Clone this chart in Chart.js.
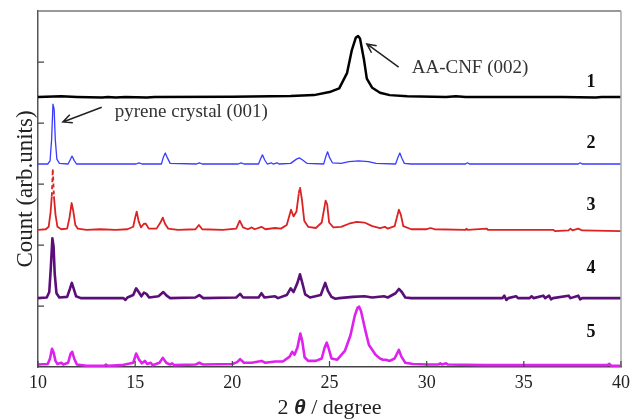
<!DOCTYPE html>
<html>
<head>
<meta charset="utf-8">
<script src="https://cdn.jsdelivr.net/npm/chart.js@4/dist/chart.umd.min.js"></script>
<style>
  html, body { margin: 0; padding: 0; background: #fff; }
  #wrap { width: 635px; height: 420px; }
</style>
</head>
<body>
<div id="wrap"><canvas id="xrdChart"></canvas></div>
<script>
// Sample labels and vertical offsets of each pattern
const sampleLabels = ['1', '2', '3', '4', '5'];
const offsets = [4.43, 3.33, 2.25, 1.13, 0.02];
const xTicks = [10, 15, 20, 25, 30, 35, 40];

// Intensities (arb. units), [2theta, counts]
const s1 = [[10,0],[11.2,0.01],[12,0],[13.3,-0.01],[13.6,0],[14,-0.01],[14.5,0],[15.6,-0.01],[16,0],[20,0.005],
  [22,0.01],[23,0.015],[24.2,0.03],[25,0.08],[25.5,0.14],[25.9,0.39],[26.15,0.77],[26.35,0.97],[26.47,1.0],
  [26.57,0.96],[26.77,0.62],[26.92,0.3],[27.2,0.15],[27.6,0.07],[28.1,0.03],[29,0.01],[31,0],[31.5,0.01],
  [32,0],[37,0],[38.7,-0.01],[39,0],[40,0]];

const s2 = [[10,0],[10.5,0],[10.62,0.05],[10.7,0.4],[10.77,0.98],[10.83,0.9],[10.89,0.4],[10.97,0.08],[11.1,0.01],
  [11.55,0],[11.66,0.07],[11.75,0.13],[11.86,0.06],[11.98,0],[15.05,0],[15.2,0.02],[15.35,0],[16.35,0],
  [16.46,0.12],[16.55,0.18],[16.66,0.1],[16.8,0.01],[18.15,0],[18.3,0.02],[18.45,0],[20.3,0],[20.45,0.02],
  [20.6,0],[21.35,0],[21.46,0.09],[21.55,0.15],[21.66,0.07],[21.8,0],[22.0,0.02],[22.1,0],[22.3,0.02],[22.4,0],
  [23.0,0.01],[23.3,0.08],[23.45,0.1],[23.6,0.07],[23.85,0.01],[24.7,0],[24.81,0.12],[24.9,0.2],[25.01,0.1],
  [25.15,0.02],[25.6,0.01],[26.0,0.04],[26.5,0.05],[27.0,0.04],[27.4,0.01],[28.4,0],[28.51,0.1],[28.62,0.18],
  [28.73,0.09],[28.85,0.01],[29.2,0],[32.0,0],[32.1,0.02],[32.2,0],[37.8,0],[37.9,0.02],[38.0,0],[40,0]];

const s3 = [[10,0],[10.4,0.01],[10.55,0.05],[10.65,0.3],[10.71,0.55],[10.76,1.0],[10.82,0.55],[10.9,0.25],
  [11.0,0.05],[11.2,0.01],[11.5,0.02],[11.62,0.2],[11.73,0.44],[11.82,0.3],[11.92,0.08],[12.05,0.02],[12.5,0],
  [13.2,0.01],[14.0,0],[14.6,0.01],[14.9,0.05],[15.0,0.2],[15.08,0.3],[15.18,0.14],[15.3,0.04],[15.45,0.1],
  [15.55,0.1],[15.7,0.02],[16.1,0.02],[16.3,0.12],[16.42,0.2],[16.55,0.09],[16.7,0.02],[17.2,0],[18.1,0.01],
  [18.28,0.08],[18.45,0.01],[19.5,0],[20.2,0.02],[20.38,0.15],[20.55,0.04],[20.8,0.01],[21.0,0.04],[21.15,0.01],
  [21.5,0.05],[21.7,0.01],[22.2,0.03],[22.5,0.02],[22.8,0.08],[23.02,0.33],[23.15,0.22],[23.3,0.3],[23.42,0.6],
  [23.48,0.7],[23.58,0.5],[23.7,0.15],[23.9,0.05],[24.3,0.03],[24.6,0.12],[24.8,0.48],[24.88,0.42],[24.98,0.12],
  [25.2,0.04],[25.6,0.05],[26.0,0.1],[26.4,0.13],[26.8,0.12],[27.2,0.06],[27.6,0.03],[27.85,0.05],[28.0,0.02],
  [28.35,0.06],[28.57,0.33],[28.67,0.25],[28.8,0.06],[29.2,0.01],[30.0,0.01],[30.2,0.03],[30.4,0.01],[32,0],
  [32.05,0.02],[32.1,0],[33.1,0.02],[33.15,0],[34.2,0],[36.5,0],[36.6,-0.02],[37.3,-0.01],[37.4,0.02],
  [37.5,-0.01],[37.8,0.02],[38,-0.01],[40,-0.02]];

const s4 = [[10,0],[10.45,0.01],[10.58,0.1],[10.66,0.5],[10.74,0.98],[10.8,0.85],[10.86,0.4],[10.95,0.08],
  [11.1,0.01],[11.5,0.02],[11.64,0.15],[11.74,0.25],[11.84,0.15],[11.96,0.03],[12.2,0],[14.4,0],[14.5,-0.03],
  [14.6,0.01],[14.9,0.05],[15.05,0.16],[15.18,0.1],[15.32,0.03],[15.45,0.09],[15.58,0.07],[15.72,0.01],
  [16.2,0.03],[16.45,0.1],[16.62,0.04],[16.8,0],[18.1,0.01],[18.3,0.05],[18.5,0],[20.2,0.01],[20.4,0.07],
  [20.55,0.01],[21.35,0.01],[21.5,0.08],[21.65,0.01],[22.2,0.03],[22.35,0],[22.8,0.05],[23.0,0.16],[23.15,0.1],
  [23.35,0.25],[23.48,0.39],[23.6,0.25],[23.75,0.06],[24.0,0.01],[24.55,0.05],[24.78,0.25],[24.92,0.12],
  [25.1,0.02],[25.3,-0.01],[25.5,0],[26.2,0.02],[26.8,0.03],[27.2,0.01],[27.8,0.03],[28.0,0.01],[28.4,0.08],
  [28.57,0.15],[28.72,0.1],[28.9,0.01],[29.2,0],[33.9,0],[34.0,0.04],[34.1,-0.03],[34.2,0],[34.6,0.03],
  [34.7,0],[35.3,0],[35.4,0.03],[35.5,0],[36.0,0.04],[36.1,0],[36.3,0.04],[36.4,-0.02],[36.5,0],[37.3,0.04],
  [37.4,0],[37.8,0.04],[37.9,-0.02],[38,0],[40,0]];

const s5 = [[10,0.02],[10.5,0.03],[10.62,0.12],[10.72,0.28],[10.8,0.22],[10.9,0.08],[11.0,0.03],[11.2,0.05],
  [11.3,0.02],[11.55,0.05],[11.68,0.2],[11.76,0.23],[11.86,0.12],[12.0,0.02],[12.5,0],[13.4,0],[13.5,0.02],
  [13.6,0],[14.3,0.01],[14.9,0.05],[15.05,0.2],[15.2,0.1],[15.35,0.04],[15.5,0.08],[15.62,0.03],[15.8,0.05],
  [15.9,0.01],[16.25,0.05],[16.42,0.13],[16.6,0.05],[16.8,0.02],[16.9,0.04],[17.0,0.01],[18.1,0.02],[18.3,0.05],
  [18.5,0.02],[20.0,0.03],[20.25,0.06],[20.4,0.11],[20.6,0.05],[21.0,0.05],[21.5,0.08],[21.7,0.05],[22.2,0.07],
  [22.6,0.07],[22.95,0.15],[23.08,0.23],[23.2,0.18],[23.35,0.3],[23.5,0.53],[23.6,0.4],[23.72,0.14],[23.9,0.08],
  [24.3,0.08],[24.6,0.12],[24.75,0.3],[24.86,0.38],[24.96,0.28],[25.1,0.12],[25.4,0.1],[25.8,0.25],[26.08,0.5],
  [26.3,0.82],[26.44,0.95],[26.52,0.97],[26.62,0.9],[26.86,0.56],[27.03,0.34],[27.37,0.18],[27.6,0.12],
  [27.75,0.1],[27.9,0.1],[28.1,0.08],[28.35,0.12],[28.57,0.26],[28.7,0.15],[28.9,0.05],[29.3,0.03],[30,0.02],
  [30.6,0.02],[30.7,0.04],[30.8,0.02],[31.0,0.04],[31.1,0.02],[33,0.01],[35,0.01],[39.3,0.01],[39.4,0.03],
  [39.5,0],[40,0]];

const series = [s1, s2, s3, s4, s5];
const colors = ['#000000', '#3b3bff', '#dd2222', '#5a0f78', '#dd22ee'];
const widths = [2.5, 1.3, 1.8, 2.6, 2.6];

const serif = "'Liberation Serif', 'Times New Roman', serif";

// text and arrows placed in data coordinates
const notes = [
  { text: 'AA-CNF (002)', tx: 29.23, ty: 4.90, from: [28.56, 4.92], to: [26.92, 5.30] },
  { text: 'pyrene crystal (001)', tx: 13.95, ty: 4.18, from: [13.28, 4.26], to: [11.28, 4.02] }
];
const numberPos = { x: 38.46, y: [4.67, 3.67, 2.66, 1.62, 0.57] };

const overlay = {
  id: 'overlay',
  afterDraw(chart) {
    const { ctx, chartArea: a, scales: { x, y } } = chart;
    ctx.save();

    // top / right frame
    ctx.lineWidth = 1.5;
    ctx.strokeStyle = '#777';
    ctx.beginPath(); ctx.moveTo(a.left, a.top); ctx.lineTo(a.right, a.top); ctx.stroke();
    ctx.strokeStyle = '#aaa';
    ctx.beginPath(); ctx.moveTo(a.right, a.top); ctx.lineTo(a.right, a.bottom); ctx.stroke();

    // inward ticks
    ctx.strokeStyle = '#444';
    ctx.lineWidth = 1.2;
    ctx.beginPath();
    x.ticks.forEach(t => {
      const px = x.getPixelForValue(t.value);
      ctx.moveTo(px, a.bottom); ctx.lineTo(px, a.bottom - 6);
    });
    y.ticks.filter(t => Number.isInteger(t.value) && t.value > 0).forEach(t => {
      const py = y.getPixelForValue(t.value);
      ctx.moveTo(a.left, py); ctx.lineTo(a.left + 6, py);
    });
    ctx.stroke();

    // sample numbers
    ctx.fillStyle = '#111';
    ctx.font = 'bold 18px ' + serif;
    ctx.textAlign = 'center';
    ctx.textBaseline = 'middle';
    sampleLabels.forEach((lab, i) => {
      ctx.fillText(lab, x.getPixelForValue(numberPos.x), y.getPixelForValue(numberPos.y[i]));
    });

    // annotations with arrows
    ctx.font = '19px ' + serif;
    ctx.textAlign = 'left';
    notes.forEach(n => {
      ctx.fillStyle = '#333';
      ctx.fillText(n.text, x.getPixelForValue(n.tx), y.getPixelForValue(n.ty));
      const x0 = x.getPixelForValue(n.from[0]), y0 = y.getPixelForValue(n.from[1]);
      const x1 = x.getPixelForValue(n.to[0]), y1 = y.getPixelForValue(n.to[1]);
      const ang = Math.atan2(y1 - y0, x1 - x0);
      ctx.strokeStyle = '#222';
      ctx.lineWidth = 1.5;
      ctx.beginPath();
      ctx.moveTo(x0, y0); ctx.lineTo(x1, y1);
      ctx.moveTo(x1 - 10 * Math.cos(ang - 0.45), y1 - 10 * Math.sin(ang - 0.45));
      ctx.lineTo(x1, y1);
      ctx.lineTo(x1 - 10 * Math.cos(ang + 0.45), y1 - 10 * Math.sin(ang + 0.45));
      ctx.stroke();
    });

    // axis titles
    ctx.fillStyle = '#222';
    ctx.textBaseline = 'alphabetic';
    const parts = [
      { t: '2 ', f: '22px ' + serif },
      { t: 'θ', f: "bold italic 21px 'Liberation Sans', Arial, sans-serif" },
      { t: ' / degree', f: '22px ' + serif }
    ];
    let total = 0;
    parts.forEach(p => { ctx.font = p.f; p.w = ctx.measureText(p.t).width; total += p.w; });
    let cx = (a.left + a.right) / 2 - total / 2;
    ctx.textAlign = 'left';
    parts.forEach(p => { ctx.font = p.f; ctx.fillText(p.t, cx, 414); cx += p.w; });

    ctx.translate(32, (a.top + a.bottom) / 2);
    ctx.rotate(-Math.PI / 2);
    ctx.textAlign = 'center';
    ctx.font = '23px ' + serif;
    ctx.fillText('Count (arb.units)', 0, 0);
    ctx.restore();
  }
};

const ctx = document.getElementById('xrdChart').getContext('2d');
new Chart(ctx, {
  type: 'line',
  data: {
    datasets: series.map((s, i) => ({
      label: sampleLabels[i],
      data: s.map(p => ({ x: p[0], y: p[1] + offsets[i] })),
      borderColor: colors[i],
      borderWidth: widths[i],
      borderJoinStyle: 'round',
      pointRadius: 0,
      tension: 0,
      fill: false,
      // the strongest red reflection is drawn dashed in the original
      segment: i === 2 ? {
        borderDash: c => (c.p0.parsed.y - offsets[2] > 0.5 && c.p1.parsed.y - offsets[2] > 0.5) ? [4, 3] : undefined
      } : undefined
    }))
  },
  options: {
    responsive: true,
    maintainAspectRatio: false,
    animation: false,
    layout: { padding: { top: 11, right: 12, left: 0, bottom: 0 } },
    plugins: { legend: { display: false }, tooltip: { enabled: false } },
    scales: {
      x: {
        type: 'linear',
        min: 10,
        max: 40,
        afterBuildTicks: s => { s.ticks = xTicks.map(v => ({ value: v })); },
        afterFit: s => { s.height = 53; },
        ticks: { color: '#222', padding: 5, font: { family: serif, size: 18 } },
        grid: { drawOnChartArea: false, drawTicks: false },
        border: { color: '#444', width: 1.5 }
      },
      y: {
        min: 0,
        max: 5.84,
        ticks: { display: false, stepSize: 1 },
        afterFit: s => { s.width = 38; },
        grid: { drawOnChartArea: false, drawTicks: false },
        border: { color: '#555', width: 1.5 }
      }
    }
  },
  plugins: [overlay]
});
</script>
</body>
</html>
